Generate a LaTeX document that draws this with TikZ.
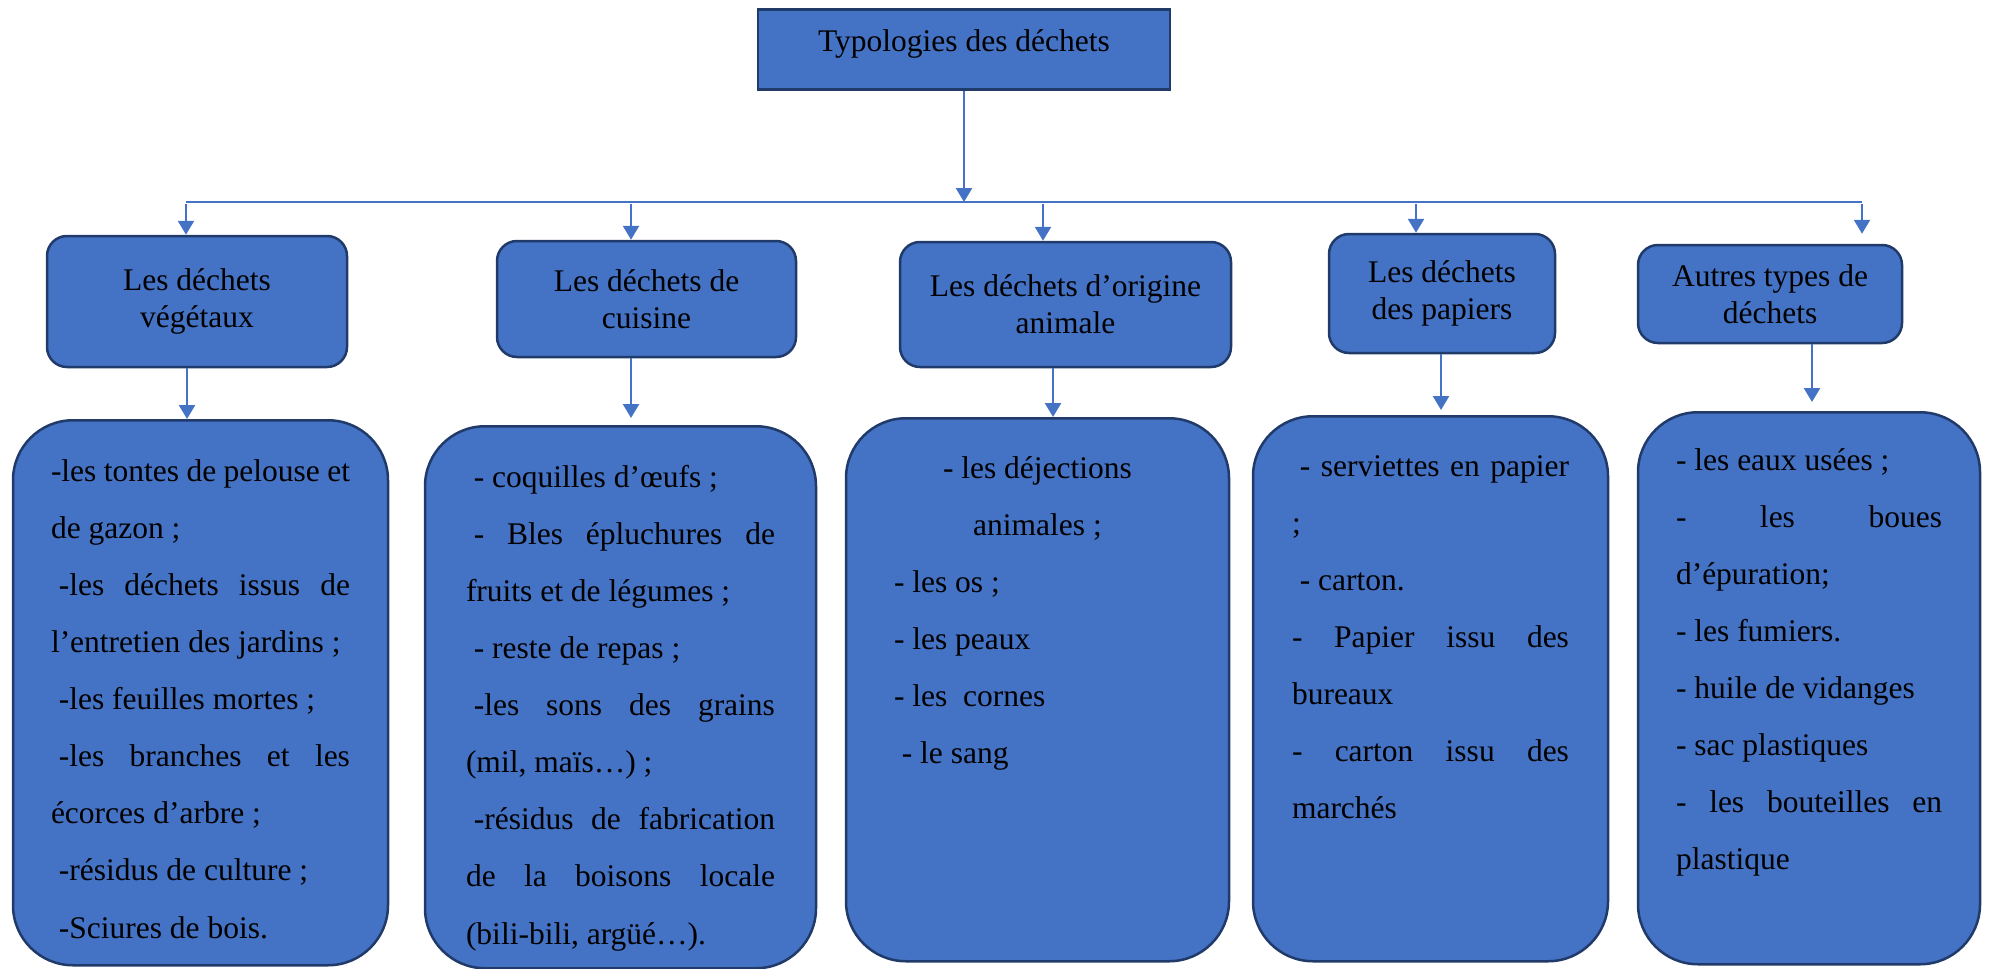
\documentclass[tikz,border=0pt]{standalone}
\usepackage{fontspec}
\setmainfont{Liberation Serif}
\usetikzlibrary{arrows.meta}

\definecolor{boxfill}{HTML}{4472C4}
\definecolor{boxline}{HTML}{203A6A}
\definecolor{linkblue}{HTML}{4472C4}

\newcommand{\jline}[1]{\makebox[\linewidth][s]{\spaceskip=0pt\xspaceskip=0pt\relax #1}}
\newcommand{\lsp}{\hspace*{.25em}}

\tikzstyle{titlebox} = [rectangle, minimum width=412, draw=boxline, line width=2.5pt, fill=boxfill, inner ysep=0, font=\fontsize{31.5}{36.7}\selectfont]
\tikzstyle{typebox} = [rectangle, rounded corners=20, draw=boxline, line width=2.5pt, fill=boxfill, align=center, inner sep=0, font=\fontsize{31.5}{36.7}\selectfont]
\tikzstyle{listbox} = [rectangle, rounded corners=60, anchor=north, draw=boxline, line width=2.5pt, fill=boxfill, align=justify, inner ysep=0, font=\fontsize{31.5}{57.1}\selectfont]
\tikzstyle{arrow} = [line width=2.5pt, draw=linkblue, ->, >={Triangle[width=16pt,length=14pt]}]
\tikzstyle{bar} = [line width=1.5pt, draw=linkblue]

\begin{document}
\begin{tikzpicture}[x=1pt, y=-1pt]
\useasboundingbox (0,0) rectangle (1989,969);

% Nodes
\node (typo) [titlebox, anchor=north, text height=42pt, text depth=38pt] at (964,8) {Typologies des déchets};

\node (veg) [typebox, minimum width=300, minimum height=131] at (197,301.5) {Les déchets\\végétaux};
\node (cuis) [typebox, minimum width=299, minimum height=116] at (646.5,299) {Les déchets de\\cuisine};
\node (anim) [typebox, minimum width=331, minimum height=125] at (1065.5,304.5) {Les déchets d’origine\\animale};
\node (pap) [typebox, minimum width=226, minimum height=119] at (1442,293.5) {Les déchets\\des papiers};
\node (autres) [typebox, minimum width=264, minimum height=98] at (1770,294) {Autres types de\\déchets};

\node (veglist) [listbox, text width=299pt, inner xsep=38pt, text height=61pt, text depth=484pt] at (200.5,419) {
\jline{-les tontes de pelouse et}\\
de gazon ;\\
\jline{\hspace{.25em}-les déchets issus de}\\
l’entretien des jardins ;\\
\lsp-les feuilles mortes ;\\
\jline{\hspace{.25em}-les branches et les}\\
écorces d’arbre ;\\
\lsp-résidus de culture ;\\
\lsp-Sciures de bois.};

\node (cuislist) [listbox, text width=309pt, inner xsep=41pt, text height=61pt, text depth=481pt] at (620.5,425) {
\lsp- coquilles d’œufs ;\\
\jline{\hspace{.25em}- Bles épluchures de}\\
fruits et de légumes ;\\
\lsp- reste de repas ;\\
\jline{\hspace{.25em}-les sons des grains}\\
(mil, maïs…) ;\\
\jline{\hspace{.25em}-résidus de fabrication}\\
\jline{de la boisons locale}\\
(bili-bili, argüé…).};

\node (animlist) [listbox, text width=287pt, inner xsep=48pt, text height=60pt, text depth=483pt] at (1037.5,417) {
\makebox[\linewidth]{- les déjections}\\
\makebox[\linewidth]{animales ;}\\
- les os ;\\
- les peaux\\
- les \ cornes\\
\lsp- le sang};

\node (paplist) [listbox, text width=277pt, inner xsep=39pt, text height=60pt, text depth=485pt] at (1430.5,415) {
\jline{\hspace{.25em}- serviettes en papier}\\
;\\
\lsp- carton.\\
\jline{- Papier issu des}\\
bureaux\\
\jline{- carton issu des}\\
marchés};

\node (autreslist) [listbox, text width=266pt, inner xsep=38pt, text height=58pt, text depth=494pt] at (1809,411) {
- les eaux usées ;\\
\jline{- les boues}\\
d’épuration;\\
- les fumiers.\\
- huile de vidanges\\
- sac plastiques\\
\jline{- les bouteilles en}\\
plastique};

% Arrows
\coordinate (barL) at (186,202);
\coordinate (barR) at (1862,202);
\draw [bar] (barL) -- (barR);
\draw [arrow] (typo.south) -- (typo.south |- barL);

\foreach \x/\n/\g in {186/veg/0, 631/cuis/0, 1043/anim/0, 1416/pap/0, 1862/autres/10} {
  \coordinate (\n top) at (\x,204);
  \draw [arrow, shorten >=\g pt] (\n top) -- (\n top |- \n.north);
}
\foreach \x/\n/\g in {187/veg/0, 631/cuis/7, 1053/anim/0, 1441/pap/5, 1812/autres/9} {
  \coordinate (\n link) at (\x,0);
  \draw [arrow, shorten >=\g pt] (\n.south -| \n link) -- (\n list.north -| \n link);
}

\end{tikzpicture}
\end{document}
